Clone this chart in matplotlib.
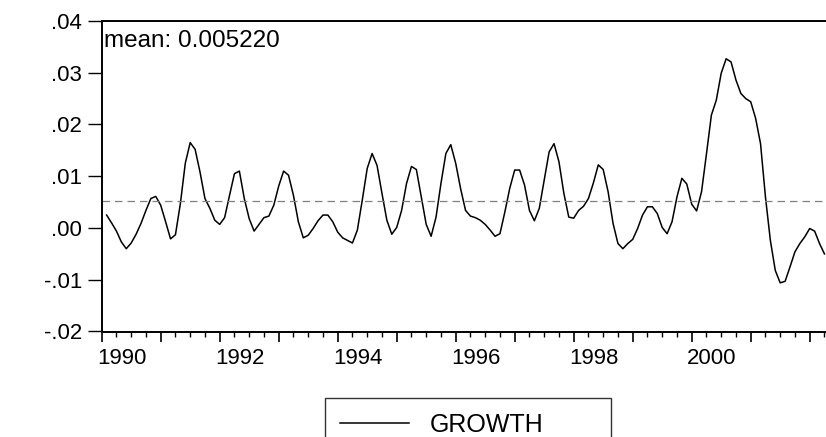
import numpy as np
import pandas as pd
import matplotlib
matplotlib.use("Agg")
import matplotlib.pyplot as plt
from matplotlib.ticker import FixedLocator, FuncFormatter
from matplotlib.transforms import ScaledTranslation

plt.rcParams['font.family'] = ['Liberation Sans', 'DejaVu Sans']

# monthly growth, 1990M02 .. 2002M04
start_month = "1990-02"
growth = [
    0.0025, 0.0010, -0.0006, -0.0027, -0.0040, -0.0029, -0.0012, 0.0009, 0.0034, 0.0057,
    0.0061, 0.0044, 0.0012, -0.0021, -0.0013, 0.0047, 0.0125, 0.0165, 0.0152, 0.0108,
    0.0057, 0.0038, 0.0015, 0.0007, 0.0020, 0.0063, 0.0105, 0.0110, 0.0057, 0.0018,
    -0.0006, 0.0007, 0.0020, 0.0023, 0.0044, 0.0081, 0.0110, 0.0102, 0.0063, 0.0012,
    -0.0019, -0.0014, -0.0001, 0.0014, 0.0025, 0.0025, 0.0012, -0.0008, -0.0019, -0.0024,
    -0.0029, -0.0004, 0.0054, 0.0115, 0.0144, 0.0121, 0.0067, 0.0015, -0.0012, 0.0001,
    0.0034, 0.0086, 0.0119, 0.0113, 0.0060, 0.0007, -0.0016, 0.0021, 0.0086, 0.0144,
    0.0161, 0.0125, 0.0076, 0.0034, 0.0023, 0.0020, 0.0015, 0.0007, -0.0004, -0.0016,
    -0.0011, 0.0031, 0.0077, 0.0112, 0.0112, 0.0083, 0.0034, 0.0014, 0.0038, 0.0092,
    0.0147, 0.0163, 0.0128, 0.0067, 0.0021, 0.0019, 0.0034, 0.0042, 0.0057, 0.0087,
    0.0122, 0.0113, 0.0070, 0.0009, -0.0030, -0.0040, -0.0030, -0.0022, -0.0001, 0.0025,
    0.0041, 0.0041, 0.0028, 0.0001, -0.0011, 0.0012, 0.0060, 0.0096, 0.0085, 0.0046,
    0.0033, 0.0070, 0.0143, 0.0218, 0.0247, 0.0299, 0.0327, 0.0321, 0.0286, 0.0260,
    0.0250, 0.0244, 0.0212, 0.0163, 0.0060, -0.0024, -0.0082, -0.0106, -0.0103, -0.0075,
    -0.0046, -0.0030, -0.0017, -0.0001, -0.0006, -0.0030, -0.0050,
]
mean_growth = 0.005220

year_ticks = list(range(1990, 2003))
year_labels = [str(y) if (y % 2 == 0 and y <= 2000) else "" for y in year_ticks]
y_ticks = [-0.02, -0.01, 0.00, 0.01, 0.02, 0.03, 0.04]

months = pd.period_range(start_month, periods=len(growth), freq="M")
t = months.year + (months.month - 1) / 12.0

W, H = 826, 437
fig = plt.figure(figsize=(W / 100, H / 100), dpi=100)
ax = fig.add_axes([101.7 / W, 1 - 331.5 / H, 1 - 101.7 / W, (331.5 - 21) / H])

ax.plot(t, growth, color="black", lw=1.1, label="GROWTH")
ax.axhline(mean_growth, color="#808080", lw=0.9, dashes=(6, 4))

ax.set_xlim(1990, 1990 + (W - 101.7) / 59.0)
ax.set_ylim(-0.02, 0.04)

ax.spines["right"].set_visible(False)
for s in ["left", "top", "bottom"]:
    ax.spines[s].set_linewidth(1.4)
    ax.spines[s].set_color("black")

ax.xaxis.set_major_locator(FixedLocator(year_ticks))
ax.set_xticklabels(year_labels)
ax.xaxis.set_minor_locator(FixedLocator(np.arange(1990, 2002.3, 0.25)))
ax.set_yticks(y_ticks)
ax.yaxis.set_major_formatter(FuncFormatter(
    lambda v, p: ("-" if v < -1e-9 else "") + ("%.2f" % abs(v))[1:]))

ax.tick_params(axis="x", which="major", direction="out", length=7, width=1.2,
               labelsize=16, pad=5)
ax.tick_params(axis="x", which="minor", direction="out", length=3.5, width=1.0)
ax.tick_params(axis="y", which="major", direction="out", length=10, width=1.0,
               labelsize=16, pad=4)

shift = ScaledTranslation(20 / 100, 0, fig.dpi_scale_trans)
for lab in ax.get_xticklabels():
    lab.set_transform(lab.get_transform() + shift)

ax.annotate("mean: %.6f" % mean_growth, xy=(0, 1), xycoords="axes fraction",
            xytext=(2, -26), textcoords="offset pixels", ha="left", va="baseline",
            fontsize=17.5)

leg = ax.legend(loc="upper left", mode="expand",
                bbox_to_anchor=(325 / W, 0, 286 / W, 1 - 398 / H),
                bbox_transform=fig.transFigure, borderaxespad=0,
                fontsize=18, handlelength=2.75, handletextpad=0.85,
                borderpad=0.6, fancybox=False, framealpha=1)
leg.get_frame().set_edgecolor("#333333")
leg.get_frame().set_linewidth(1.0)

fig.savefig("out.png", dpi=100)
